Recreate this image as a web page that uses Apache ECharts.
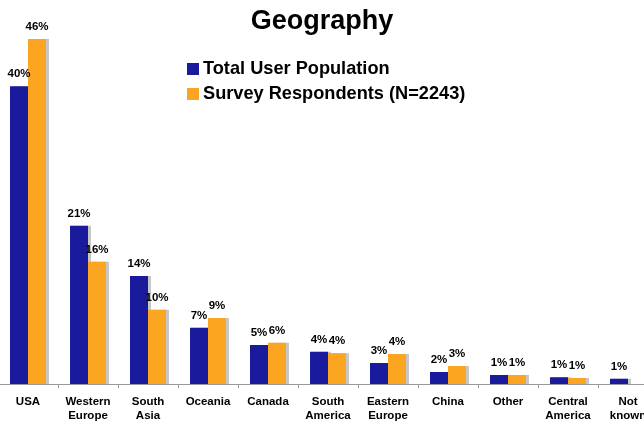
<!DOCTYPE html>
<html><head><meta charset="utf-8">
<script src="https://cdn.jsdelivr.net/npm/echarts@6/dist/echarts.min.js"></script>
<style>html,body{margin:0;padding:0;background:#fff}#c{width:644px;height:423px}</style>
</head><body><div id="c"></div>
<script>
const categories = ['USA','Western\nEurope','South\nAsia','Oceania','Canada','South\nAmerica','Eastern\nEurope','China','Other','Central\nAmerica','Not\nknown'];
const totalUsers = [39.7, 21.1, 14.4, 7.5, 5.2, 4.3, 2.8, 1.6, 1.2, 0.9, 0.7];
const totalLabels = ['40%','21%','14%','7%','5%','4%','3%','2%','1%','1%','1%'];
const respondents = [46, 16.3, 9.9, 8.8, 5.5, 4.1, 4.0, 2.4, 1.2, 0.8, 0];
const respLabels = ['46%','16%','10%','9%','6%','4%','4%','3%','1%','1%',''];
const font = 'Liberation Sans, Arial, sans-serif';
const chart = echarts.init(document.getElementById('c'));
function mk(name, vals, labels, color){
  return {
    name, type:'bar', barWidth:18, barGap:'0%',
    data: vals.map((v,i)=>({value:v, label:{formatter:labels[i]}})),
    itemStyle:{color, shadowColor:'rgba(0,0,0,0.22)', shadowOffsetX:3, shadowOffsetY:0, shadowBlur:0},
    label:{show:true, position:'top', distance:6, color:'#000', fontWeight:'bold', fontSize:11.5, fontFamily:font},
    animation:false
  };
}
chart.setOption({
  animation:false,
  title:{text:'Geography', left:'center', top:3, textStyle:{fontSize:27, fontWeight:'bold', color:'#000', fontFamily:font}},
  legend:{orient:'vertical', left:182, top:55, itemWidth:12, itemHeight:12, itemGap:7, icon:'rect',
    textStyle:{fontSize:18.2, fontWeight:'bold', color:'#000', fontFamily:font, padding:[0,0,0,-1]},
    data:['Total User Population','Survey Respondents (N=2243)']},
  grid:{left:-2, width:660, top:9, bottom:39, outerBoundsMode:'none', containLabel:false},
  xAxis:{type:'category', data:categories,
    axisLine:{lineStyle:{color:'#999'}},
    axisTick:{show:true, length:4, lineStyle:{color:'#999'}},
    axisLabel:{color:'#000', fontWeight:'bold', fontSize:11.5, fontFamily:font, margin:11, lineHeight:14, interval:0}},
  yAxis:{type:'value', min:0, max:50, show:false, splitLine:{show:false}},
  series:[mk('Total User Population', totalUsers, totalLabels, '#1a1a9c'), mk('Survey Respondents (N=2243)', respondents, respLabels, '#fba521')]
});
</script></body></html>
